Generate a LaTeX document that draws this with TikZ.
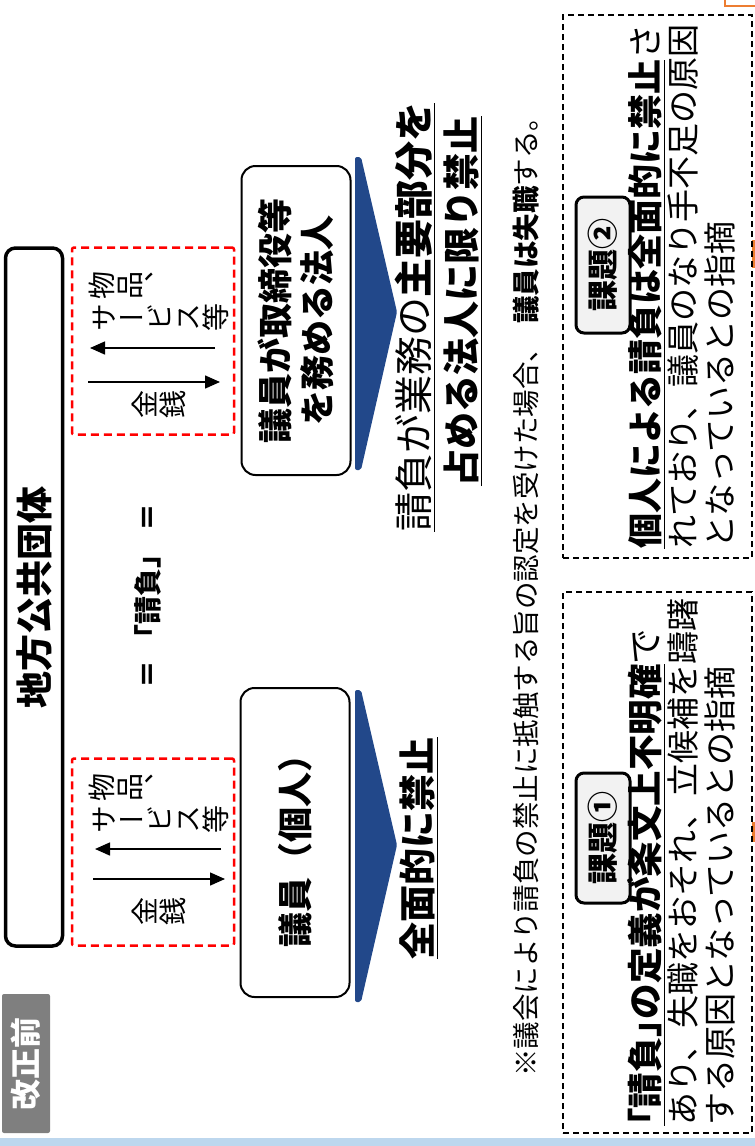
\documentclass[tikz,border=0pt]{standalone}
\usepackage{fontspec}
\setmainfont{Noto Sans CJK JP}
\newfontfamily\vjp{Noto Sans CJK JP}[RawFeature=+vert]
\usetikzlibrary{arrows.meta}
\definecolor{chevblue}{HTML}{22488A}
\definecolor{lightstrip}{HTML}{BDD7EE}
\definecolor{orangeline}{HTML}{ED7D31}
\definecolor{labelgray}{HTML}{F2F2F2}
\definecolor{tabgray}{HTML}{7F7F7F}
\newcommand\fsz[1]{\fontsize{#1}{#1}\selectfont}
\newcommand\pbr[1]{{\addfontfeature{RawFeature=+palt}#1}}
\newcommand\tateline[4]{%
  \foreach \c [count=\i] in {#4} {\node[tg] (#1\i) at ({#2+(\i-1)*28},#3) {\c};}}
\begin{document}
\begin{tikzpicture}[x=1pt,y=-1pt,
  ln/.style={rotate=90,inner sep=0pt,text height=.88em,text depth=.12em},
  tg/.style={rotate=90,inner sep=0pt,text height=24.6pt,text depth=3.4pt,text width=28pt,align=center,font=\vjp\fsz{28}},
  wbox/.style={rotate=90,draw,line width=2pt,rounded corners=14pt,minimum width=309pt,minimum height=109pt,inner sep=0pt},
  redbox/.style={draw=red,line width=2.5pt,dash pattern=on 8pt off 5pt,rounded corners=2pt,minimum width=162pt,minimum height=187pt,inner sep=0pt},
  kbox/.style={draw,line width=1.5pt,dash pattern=on 6pt off 4pt,minimum width=189pt,inner sep=0pt},
  tagbox/.style={rotate=90,draw,fill=labelgray,line width=3pt,rounded corners=8pt,minimum height=54pt,inner sep=0pt,text height=27pt,text depth=4pt,font=\bfseries\fsz{31}},
  arr/.style={line width=1.5pt,-{Triangle[length=15pt,width=13pt]}}]
\useasboundingbox (0,0) rectangle (755,1146);
% bottom strip and orange fragments
\fill[lightstrip] (0,1138) rectangle (755,1146);
\draw[orangeline,line width=2.5pt] (725,0) -- (725,6) -- (755,6);
\draw[orangeline,line width=2.5pt] (753.5,240) -- (753.5,268);
\draw[orangeline,line width=2.5pt] (753.5,822) -- (753.5,842);
% tab
\node[rotate=90,fill=tabgray,text=white,rounded corners=2pt,minimum width=139pt,minimum height=48pt,inner sep=0pt,font=\bfseries\fsz{31}] (kaisei) at (26,1063.5) {改正前};
% local government box
\node[rotate=90,draw,line width=3.5pt,rounded corners=10pt,minimum width=698pt,minimum height=57pt,inner sep=0pt,font=\bfseries\fsz{37}] (chiho) at (34,597) {地方公共団体};
% red dashed boxes
\node[redbox] (rb1) at (153,341) {};
\node[redbox] (rb2) at (153,852) {};
\tateline{pa}{102}{285}{物,品,、}
\tateline{pb}{104}{317}{サ,ー,ビ,ス,等}
\tateline{pc}{145}{404}{金,銭}
\tateline{qa}{102}{787}{物,品,、}
\tateline{qb}{104}{819}{サ,ー,ビ,ス,等}
\tateline{qc}{145}{911}{金,銭}
\coordinate (a1s) at (215,348); \coordinate (a1e) at (90,348);
\coordinate (a2s) at (88,382);  \coordinate (a2e) at (220,382);
\coordinate (b1s) at (221,849); \coordinate (b1e) at (95,849);
\coordinate (b2s) at (93,879);  \coordinate (b2e) at (225,879);
\draw[arr] (a1s) -- (a1e);
\draw[arr] (a2s) -- (a2e);
\draw[arr] (b1s) -- (b1e);
\draw[arr] (b2s) -- (b2e);
% equal sign
\node[ln,font=\bfseries\fsz{28}] (eq) at (155,596) {＝\hspace{0.3em}「請負」\hspace{0.3em}＝};
% white boxes
\node[wbox,font=\bfseries\fsz{35}] (giin) at (295,842.5) {議員（個人）};
\node[wbox,align=center,font=\bfseries\fontsize{35}{42}\selectfont] (houjin) at (296,320.5) {議員が取締役等\\を務める法人};
% chevrons
\fill[chevblue,rounded corners=2pt] (355,690) -- (361,690) -- (397,845) -- (361,1002) -- (355,1002) -- cycle;
\fill[chevblue,rounded corners=2pt] (355,157) -- (361,157) -- (397,312) -- (361,470) -- (355,470) -- cycle;
% results
\node[ln,font=\bfseries\fsz{37}] (zenmen) at (428,848) {\underline{全面的に禁止}};
\node[ln,font=\fsz{39}] (ukeoi1) at (425,317) {\underline{請負が業務の{\bfseries 主要部分を}}};
\node[ln,font=\bfseries\fsz{37}] (ukeoi2) at (472,301) {\underline{占める法人に限り禁止}};
% note
\node[ln,anchor=west,font=\fsz{27.5}] (note) at (533,1077) {※議会により請負の禁止に抵触する旨の認定を受けた場合、\hspace{.4em}{\bfseries 議員は失職}する。};
% issue boxes
\node[kbox,minimum height=543pt] (k2) at (657.5,286.5) {};
\node[kbox,minimum height=541pt] (k1) at (657.5,862.5) {};
\node[tagbox,minimum width=136pt] (t2) at (603,265) {課題②};
\node[tagbox,minimum width=130pt] (t1) at (603,838) {課題①};
\node[ln,anchor=west,font=\bfseries\fsz{35}] (k2l1) at (655,549) {\underline{個人による請負は全面的に禁止}{\mdseries さ}};
\node[ln,anchor=west,font=\fsz{33}] (k2l2) at (692,549) {れており、議員のなり手不足の原因};
\node[ln,anchor=west,font=\fsz{33}] (k2l3) at (729,549) {となっているとの指摘};
\node[ln,anchor=west,font=\bfseries\fsz{35.5}] (k1l1) at (655,1126) {\underline{\pbr{「}請負\pbr{」}の定義が条文上不明確}{\mdseries で}};
\node[ln,anchor=west,font=\fsz{33}] (k1l2) at (692,1126) {あり、失職をおそれ、立候補を躊躇};
\node[ln,anchor=west,font=\fsz{33}] (k1l3) at (729,1126) {する原因となっているとの指摘};
\end{tikzpicture}
\end{document}
